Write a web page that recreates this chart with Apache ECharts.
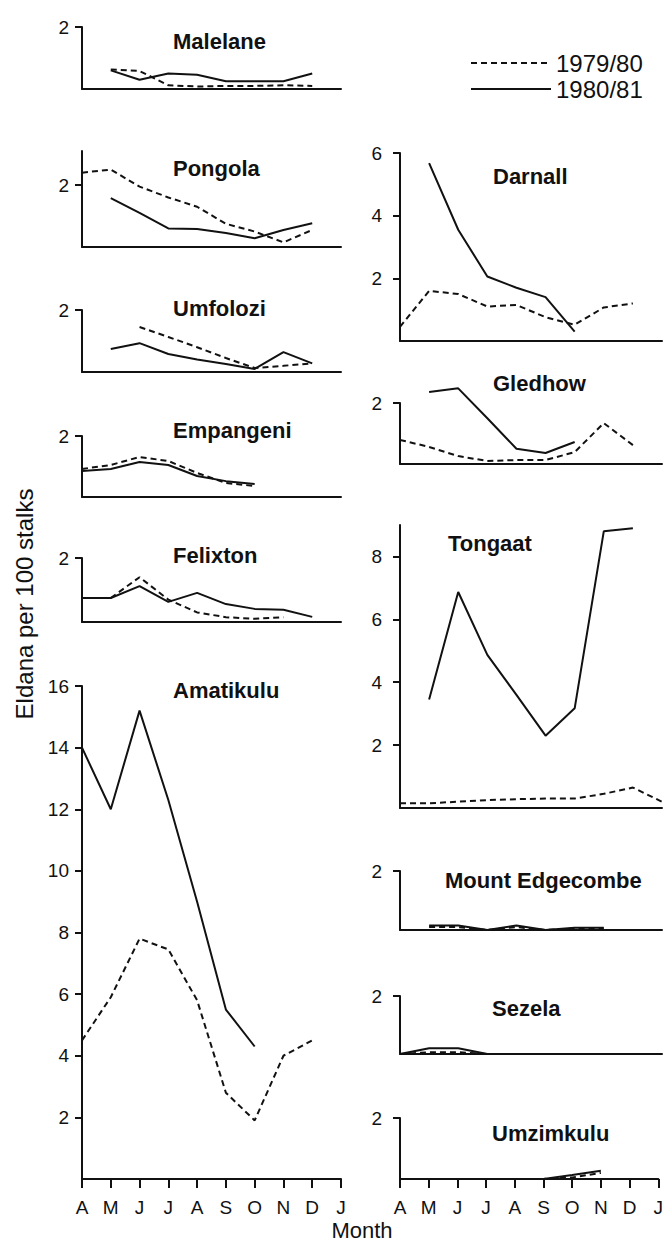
<!DOCTYPE html>
<html>
<head>
<meta charset="utf-8">
<title>Eldana per 100 stalks</title>
<script src="https://cdn.jsdelivr.net/npm/echarts@6/dist/echarts.min.js"></script>
<style>
  html, body { margin: 0; padding: 0; background: #fff; }
  #chart { width: 666px; height: 1260px; }
</style>
</head>
<body>
<div id="chart"></div>
<script>
// months A..J (April to next January)
var months = ['A', 'M', 'J', 'J', 'A', 'S', 'O', 'N', 'D', 'J'];
var seasons = ['1979/80', '1980/81'];

// eldana per 100 stalks, one slot per month, null = no sample
var malelane79 = [null, 0.63, 0.58, 0.12, 0.08, 0.1, 0.1, 0.12, 0.1, null];
var malelane80 = [null, 0.6, 0.3, 0.5, 0.46, 0.25, 0.25, 0.25, 0.5, null];
var pongola79 = [2.4, 2.5, 1.95, 1.6, 1.3, 0.75, 0.5, 0.15, 0.55, null];
var pongola80 = [null, 1.58, 1.1, 0.6, 0.58, 0.45, 0.28, 0.55, 0.77, null];
var umfolozi79 = [null, null, 1.45, 1.13, 0.8, 0.45, 0.13, 0.2, 0.28, null];
var umfolozi80 = [null, 0.74, 0.93, 0.58, 0.4, 0.26, 0.1, 0.64, 0.28, null];
var empangeni79 = [0.92, 1.05, 1.31, 1.18, 0.79, 0.46, 0.36, null, null, null];
var empangeni80 = [0.85, 0.92, 1.15, 1.05, 0.69, 0.52, 0.43, null, null, null];
var felixton79 = [null, 0.75, 1.4, 0.7, 0.3, 0.15, 0.1, 0.15, null, null];
var felixton80 = [0.75, 0.75, 1.12, 0.63, 0.91, 0.56, 0.41, 0.38, 0.16, null];
var amatikulu79 = [4.5, 5.9, 7.8, 7.45, 5.8, 2.8, 1.9, 4.0, 4.5, null];
var amatikulu80 = [14.0, 12.0, 15.2, 12.3, 9.0, 5.5, 4.3, null, null, null];
var darnall79 = [0.45, 1.6, 1.5, 1.1, 1.15, 0.76, 0.52, 1.07, 1.2, null];
var darnall80 = [null, 5.68, 3.55, 2.06, 1.7, 1.4, 0.3, null, null, null];
var gledhow79 = [0.79, 0.56, 0.26, 0.1, 0.13, 0.13, 0.39, 1.34, 0.62, null];
var gledhow80 = [null, 2.36, 2.48, 1.5, 0.5, 0.36, 0.72, null, null, null];
var tongaat79 = [0.15, 0.15, 0.2, 0.25, 0.28, 0.3, 0.3, 0.45, 0.65, 0.2];
var tongaat80 = [null, 3.45, 6.87, 4.87, 3.6, 2.3, 3.17, 8.8, 8.9, null];
var edgecombe79 = [null, 0.1, 0.1, 0.0, 0.1, 0.0, 0.05, 0.05, null, null];
var edgecombe80 = [null, 0.15, 0.15, 0.0, 0.15, 0.0, 0.08, 0.08, null, null];
var sezela79 = [0, 0.06, 0.06, 0, 0, 0, 0, 0, 0, null];
var sezela80 = [0, 0.2, 0.2, 0, 0, 0, 0, 0, 0, null];
var umzimkulu79 = [0, 0, 0, 0, 0, 0, 0.05, 0.2, null, null];
var umzimkulu80 = [0, 0, 0, 0, 0, 0, 0.13, 0.27, null, null];

// y tick labels per panel
var ticksSmall = [2];
var ticksDarnall = [2, 4, 6];
var ticksTongaat = [2, 4, 6, 8];
var ticksAmatikulu = [2, 4, 6, 8, 10, 12, 14, 16];

// panel layout (pixels): col 0 = left, col 1 = right
var cols = [{ left: 82, width: 259, margin: 13 }, { left: 400, width: 262, margin: 18 }];
var panels = [
  { name: 'Malelane', a: malelane79, b: malelane80, col: 0, top: 27, bottom: 89, max: 2, ticks: ticksSmall, tx: 173, ty: 43 },
  { name: 'Pongola', a: pongola79, b: pongola80, col: 0, top: 151, bottom: 247, max: 3.1, ticks: ticksSmall, tx: 173, ty: 170 },
  { name: 'Umfolozi', a: umfolozi79, b: umfolozi80, col: 0, top: 310, bottom: 372, max: 2, ticks: ticksSmall, tx: 173, ty: 310 },
  { name: 'Empangeni', a: empangeni79, b: empangeni80, col: 0, top: 436, bottom: 497, max: 2, ticks: ticksSmall, tx: 173, ty: 432 },
  { name: 'Felixton', a: felixton79, b: felixton80, col: 0, top: 558, bottom: 622, max: 2, ticks: ticksSmall, tx: 173, ty: 557 },
  { name: 'Amatikulu', a: amatikulu79, b: amatikulu80, col: 0, top: 686, bottom: 1179, max: 16, ticks: ticksAmatikulu, tx: 173, ty: 692, months: true },
  { name: 'Darnall', a: darnall79, b: darnall80, col: 1, top: 153, bottom: 341, max: 6, ticks: ticksDarnall, tx: 493, ty: 178 },
  { name: 'Gledhow', a: gledhow79, b: gledhow80, col: 1, top: 403, bottom: 464, max: 2, ticks: ticksSmall, tx: 493, ty: 385 },
  { name: 'Tongaat', a: tongaat79, b: tongaat80, col: 1, top: 525, bottom: 808, max: 9, ticks: ticksTongaat, tx: 448, ty: 545 },
  { name: 'Mount Edgecombe', a: edgecombe79, b: edgecombe80, col: 1, top: 871, bottom: 930, max: 2, ticks: ticksSmall, tx: 445, ty: 882 },
  { name: 'Sezela', a: sezela79, b: sezela80, col: 1, top: 996, bottom: 1054, max: 2, ticks: ticksSmall, tx: 492, ty: 1010 },
  { name: 'Umzimkulu', a: umzimkulu79, b: umzimkulu80, col: 1, top: 1118, bottom: 1179, max: 2, ticks: ticksSmall, tx: 492, ty: 1135, months: true }
];

var ink = '#111';
var font = 'Liberation Sans, Arial, sans-serif';

// month index -> [x, y] pairs, skipping empty months
function toPairs(arr) {
  var out = [];
  arr.forEach(function (v, i) {
    if (v !== null) out.push([i, v]);
  });
  return out;
}

var grids = [], xAxes = [], yAxes = [], series = [], titles = [];

panels.forEach(function (p, i) {
  var c = cols[p.col];
  grids.push({ left: c.left, width: c.width, top: p.top, height: p.bottom - p.top });
  xAxes.push({
    gridIndex: i,
    type: 'value',
    min: 0,
    max: months.length - 1,
    interval: 1,
    splitLine: { show: false },
    axisLine: { show: true, onZero: false, lineStyle: { color: ink, width: 2 } },
    axisTick: { show: !!p.months, length: 9, lineStyle: { color: ink, width: 2 } },
    axisLabel: {
      show: !!p.months,
      margin: 19,
      color: ink,
      fontSize: 19,
      fontFamily: font,
      formatter: function (v) { return months[v]; }
    }
  });
  yAxes.push({
    gridIndex: i,
    type: 'value',
    min: 0,
    max: p.max,
    interval: 2,
    splitLine: { show: false },
    axisLine: { show: true, onZero: false, lineStyle: { color: ink, width: 2 } },
    axisTick: { show: true, length: 7, customValues: p.ticks, lineStyle: { color: ink, width: 2 } },
    axisLabel: {
      margin: c.margin,
      color: ink,
      fontSize: 19,
      fontFamily: font,
      customValues: p.ticks,
      formatter: function (v) { return p.ticks.indexOf(v) >= 0 ? String(v) : ''; }
    }
  });
  series.push({
    name: seasons[0], type: 'line', xAxisIndex: i, yAxisIndex: i,
    data: toPairs(p.a), symbol: 'none', clip: false, silent: true,
    lineStyle: { color: ink, width: 2, type: [6, 4] }
  });
  series.push({
    name: seasons[1], type: 'line', xAxisIndex: i, yAxisIndex: i,
    data: toPairs(p.b), symbol: 'none', clip: false, silent: true,
    lineStyle: { color: ink, width: 2, type: 'solid' }
  });
  titles.push({
    text: p.name, left: p.tx, top: p.ty - 13, padding: 0,
    textStyle: { fontSize: 22, fontWeight: 'bold', color: ink, fontFamily: font }
  });
});

var myEcharts = echarts.init(document.getElementById('chart'), null, { renderer: 'svg' });

var option = {
  backgroundColor: '#fff',
  animation: false,
  color: [ink, ink],
  title: titles,
  legend: {
    data: seasons,
    orient: 'vertical',
    left: 470,
    top: 51,
    padding: 0,
    itemWidth: 80,
    itemHeight: 14,
    itemGap: 2,
    selectedMode: false,
    itemStyle: { opacity: 0 },
    textStyle: { fontSize: 24, color: ink, fontFamily: font, lineHeight: 23 }
  },
  grid: grids,
  xAxis: xAxes,
  yAxis: yAxes,
  series: series,
  graphic: [
    {
      type: 'text', x: 24, y: 604, rotation: Math.PI / 2,
      style: { text: 'Eldana per 100 stalks', fontSize: 24, fontFamily: font, fill: ink, align: 'center', verticalAlign: 'middle' }
    },
    {
      type: 'text', x: 362, y: 1230,
      style: { text: 'Month', fontSize: 22, fontFamily: font, fill: ink, align: 'center', verticalAlign: 'middle' }
    }
  ]
};

myEcharts.setOption(option);
window.addEventListener('resize', function () {
  myEcharts.resize();
});
</script>
</body>
</html>
